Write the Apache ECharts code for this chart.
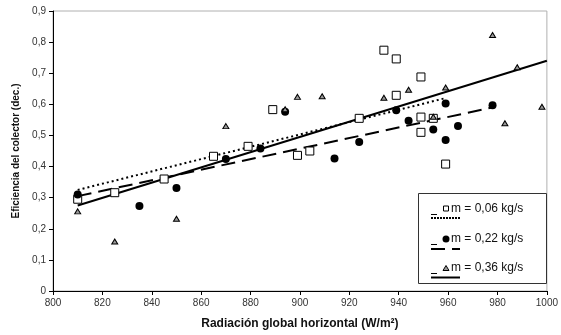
<!DOCTYPE html>
<html>
<head>
<meta charset="utf-8">
<script src="https://cdn.jsdelivr.net/npm/echarts@6/dist/echarts.min.js"></script>
<style>
  html, body { margin: 0; padding: 0; background: #fff; }
  #chart { width: 561px; height: 335px; }
</style>
</head>
<body>
<div id="chart"></div>
<script>
// Radiation (W/m2) and collector efficiency for three mass flows
const radiation006 = [810, 825, 845, 865, 879, 889, 899, 904, 924, 934, 939, 939, 949, 949, 949, 954, 959];
const efficiency006 = [0.295, 0.316, 0.36, 0.433, 0.465, 0.583, 0.436, 0.45, 0.555, 0.774, 0.746, 0.629, 0.688, 0.559, 0.51, 0.555, 0.408];

const radiation022 = [810, 835, 850, 870, 884, 894, 914, 924, 939, 944, 954, 959, 959, 964, 978];
const efficiency022 = [0.31, 0.273, 0.331, 0.424, 0.458, 0.576, 0.426, 0.479, 0.581, 0.547, 0.519, 0.603, 0.485, 0.53, 0.597];

const radiation036 = [810, 825, 850, 870, 894, 899, 909, 934, 944, 954, 959, 978, 983, 988, 998];
const efficiency036 = [0.256, 0.159, 0.232, 0.53, 0.584, 0.624, 0.626, 0.621, 0.647, 0.56, 0.654, 0.823, 0.539, 0.719, 0.592];

// Linear trend end points for each flow
const trendX006 = [810, 959];
const trendY006 = [0.325, 0.62];
const trendX022 = [810, 978];
const trendY022 = [0.305, 0.59];
const trendX036 = [810, 1000];
const trendY036 = [0.275, 0.74];

const legendLabels = ['m = 0,06 kg/s', 'm = 0,22 kg/s', 'm = 0,36 kg/s'];

const xTicks = { min: 800, max: 1000, interval: 20 };
const yTicks = { min: 0, max: 0.9, interval: 0.1 };

const pairs = (xs, ys) => xs.map((x, i) => [x, ys[i]]);

const chart = echarts.init(document.getElementById('chart'), null, { renderer: 'canvas' });

const FONT = 'Liberation Sans, Arial, sans-serif';
const GRID = { left: 53, right: 12, top: 11, bottom: 44 };

// Custom legend: marker with label, line style below
const LX = 418, LY = 193, LW = 128, LH = 90;
const rows = [
  { ty: 208.5, marker: 'rect', my: 208.5 },
  { ty: 238.5, marker: 'circle', my: 239 },
  { ty: 267.5, marker: 'tri', my: 268 }
];
const legendGraphics = [{
  type: 'rect', shape: { x: LX + 0.5, y: LY + 0.5, width: LW, height: LH },
  style: { fill: '#fff', stroke: '#333', lineWidth: 1 }, z: 100
}];
rows.forEach((r, i) => {
  legendGraphics.push({
    type: 'text', x: 451, y: r.ty, z: 101,
    style: { text: legendLabels[i], font: '12px ' + FONT, fill: '#111', textVerticalAlign: 'middle' }
  });
  legendGraphics.push({
    type: 'line', z: 101, shape: { x1: 431, y1: r.ty + 6, x2: 437, y2: r.ty + 6 },
    style: { stroke: '#000', lineWidth: 1 }
  });
  if (r.marker === 'rect') {
    legendGraphics.push({ type: 'rect', z: 101, shape: { x: 443.5, y: r.my - 2.5, width: 5, height: 5 },
      style: { fill: '#fff', stroke: '#000', lineWidth: 1 } });
  } else if (r.marker === 'circle') {
    legendGraphics.push({ type: 'circle', z: 101, shape: { cx: 446, cy: r.my, r: 3.5 },
      style: { fill: '#000' } });
  } else {
    legendGraphics.push({ type: 'polygon', z: 101, shape: { points: [[446, r.my - 2.5], [449, r.my + 2.5], [443, r.my + 2.5]] },
      style: { fill: '#999', stroke: '#000', lineWidth: 1 } });
  }
});
legendGraphics.push({ type: 'line', z: 101, shape: { x1: 431, y1: 218, x2: 460, y2: 218 },
  style: { stroke: '#000', lineWidth: 2, lineDash: [2, 1] } });
legendGraphics.push({ type: 'line', z: 101, shape: { x1: 431, y1: 249, x2: 460, y2: 249 },
  style: { stroke: '#000', lineWidth: 2, lineDash: [14, 7] } });
legendGraphics.push({ type: 'line', z: 101, shape: { x1: 431, y1: 277.5, x2: 460, y2: 277.5 },
  style: { stroke: '#000', lineWidth: 2 } });

chart.setOption({
  animation: false,
  backgroundColor: '#fff',
  grid: Object.assign({ show: true, borderColor: '#b0b0b0', borderWidth: 1, backgroundColor: '#fff' }, GRID),
  xAxis: {
    type: 'value', min: xTicks.min, max: xTicks.max, interval: xTicks.interval,
    name: 'Radiación global horizontal (W/m²)',
    nameLocation: 'middle', nameGap: 27,
    nameTextStyle: { fontFamily: FONT, fontSize: 12, fontWeight: 'bold', color: '#111' },
    axisLine: { show: true, lineStyle: { color: '#000', width: 1 } },
    axisTick: { show: true, inside: false, length: 4, lineStyle: { color: '#000' } },
    axisLabel: { fontFamily: FONT, fontSize: 10, color: '#333', margin: 7, formatter: v => String(v) },
    splitLine: { show: false }
  },
  yAxis: {
    type: 'value', min: yTicks.min, max: yTicks.max, interval: yTicks.interval,
    name: 'Eficiencia del colector (dec.)',
    nameLocation: 'middle', nameGap: 28,
    nameTextStyle: { fontFamily: FONT, fontSize: 10, fontWeight: 'bold', color: '#111' },
    axisLine: { show: true, lineStyle: { color: '#000', width: 1 } },
    axisTick: { show: true, inside: false, length: 4, lineStyle: { color: '#000' } },
    axisLabel: {
      fontFamily: FONT, fontSize: 10, color: '#333', margin: 7,
      formatter: v => (Math.round(v * 10) / 10).toString().replace('.', ',')
    },
    splitLine: { show: false }
  },
  series: [
    {
      type: 'line', data: pairs(trendX006, trendY006), symbol: 'none',
      lineStyle: { color: '#000', width: 2, type: [2, 3] }, z: 3
    },
    {
      type: 'line', data: pairs(trendX022, trendY022), symbol: 'none',
      lineStyle: { color: '#000', width: 2, type: [14, 7] }, z: 3
    },
    {
      type: 'line', data: pairs(trendX036, trendY036), symbol: 'none',
      lineStyle: { color: '#000', width: 2 }, z: 3
    },
    {
      type: 'scatter', data: pairs(radiation006, efficiency006),
      symbol: 'rect', symbolSize: 8,
      itemStyle: { color: '#fff', borderColor: '#000', borderWidth: 1, opacity: 1 }, z: 4
    },
    {
      type: 'scatter', data: pairs(radiation022, efficiency022),
      symbol: 'circle', symbolSize: 8,
      itemStyle: { color: '#000', opacity: 1 }, z: 5
    },
    {
      type: 'scatter', data: pairs(radiation036, efficiency036),
      symbol: 'triangle', symbolSize: [6, 5],
      itemStyle: { color: '#999', borderColor: '#000', borderWidth: 1, opacity: 1 }, z: 6
    }
  ],
  graphic: legendGraphics
});
</script>
</body>
</html>
